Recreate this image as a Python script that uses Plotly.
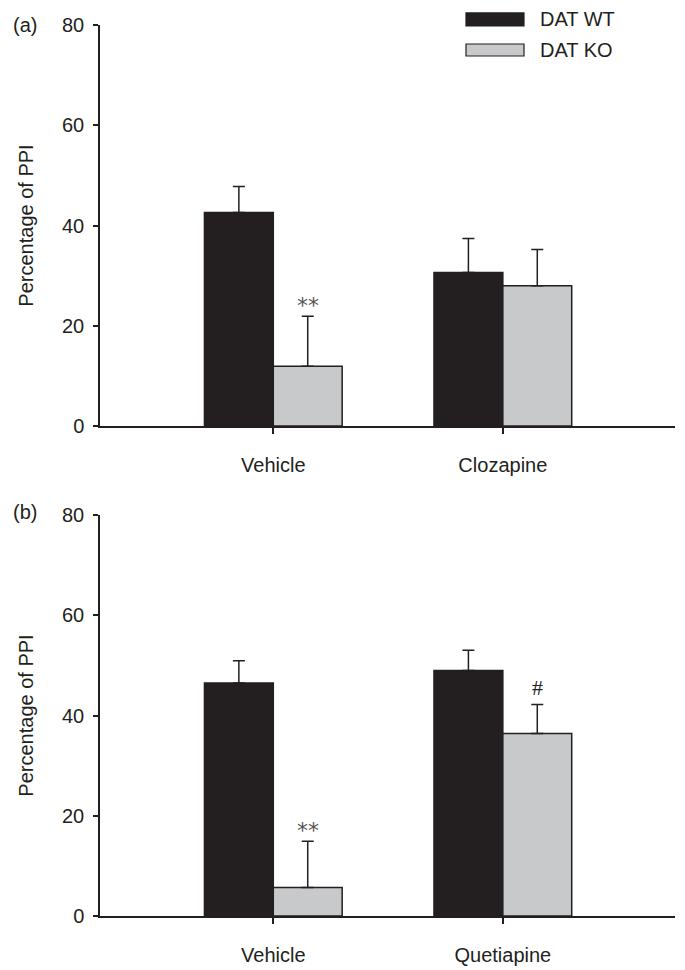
import plotly.graph_objects as go

# ---- data ----
cats_a = ["Vehicle", "Clozapine"]
wt_a = [42.6, 30.6]
wt_a_err = [5.2, 6.8]
ko_a = [11.9, 28.0]
ko_a_err = [10.0, 7.2]
sig_a = ["**", ""]

cats_b = ["Vehicle", "Quetiapine"]
wt_b = [46.5, 49.0]
wt_b_err = [4.4, 4.0]
ko_b = [5.7, 36.4]
ko_b_err = [9.2, 5.8]
sig_b = ["**", "#"]

y_ticks = [0, 20, 40, 60, 80]

DARK = "#231f20"
GREY = "#c8c9cb"
FONT = "Liberation Sans"

fig = go.Figure()

def add_panel(cats, wt, wt_err, ko, ko_err, xa, ya):
    fig.add_trace(go.Bar(
        x=cats, y=wt, name="DAT WT", marker=dict(color=DARK, line=dict(color=DARK, width=1.5)),
        error_y=dict(type="data", array=wt_err, arrayminus=[0] * len(wt), symmetric=False,
                     color=DARK, thickness=1.5, width=6),
        xaxis=xa, yaxis=ya, showlegend=False))
    fig.add_trace(go.Bar(
        x=cats, y=ko, name="DAT KO", marker=dict(color=GREY, line=dict(color=DARK, width=1.5)),
        error_y=dict(type="data", array=ko_err, arrayminus=[0] * len(ko), symmetric=False,
                     color=DARK, thickness=1.5, width=6),
        xaxis=xa, yaxis=ya, showlegend=False))

add_panel(cats_a, wt_a, wt_a_err, ko_a, ko_a_err, "x", "y")
add_panel(cats_b, wt_b, wt_b_err, ko_b, ko_b_err, "x2", "y2")

def sig_note(sym, x, y, xr, yr):
    if sym == "#":
        return dict(x=x, y=y, xref=xr, yref=yr, text=sym, showarrow=False,
                    yanchor="middle", yshift=17,
                    font=dict(family="Liberation Serif", size=22, color=DARK))
    return dict(x=x, y=y, xref=xr, yref=yr, text=sym, showarrow=False,
                yanchor="middle", yshift=11,
                font=dict(family="DejaVu Sans", size=22, color="#555"))

annotations = []
for i, (s, v, e) in enumerate(zip(sig_a, ko_a, ko_a_err)):
    if s:
        annotations.append(sig_note(s, i + 0.15, v + e, "x", "y"))
for i, (s, v, e) in enumerate(zip(sig_b, ko_b, ko_b_err)):
    if s:
        annotations.append(sig_note(s, i + 0.15, v + e, "x2", "y2"))

tf = dict(family=FONT, size=20, color=DARK)
annotations += [
    dict(x=-0.155, y=1.0, xref="paper", yref="paper", text="(a)", showarrow=False,
         xanchor="left", yanchor="middle", font=tf),
    dict(x=-0.155, y=0.4535, xref="paper", yref="paper", text="(b)", showarrow=False,
         xanchor="left", yanchor="middle", font=tf),
    dict(x=0.7617, y=1.0062, xref="paper", yref="paper", text="DAT WT", showarrow=False,
         xanchor="left", yanchor="middle", font=tf),
    dict(x=0.7617, y=0.9722, xref="paper", yref="paper", text="DAT KO", showarrow=False,
         xanchor="left", yanchor="middle", font=tf),
]

shapes = [
    dict(type="rect", xref="paper", yref="paper", x0=0.6365, x1=0.7374, y0=0.9989, y1=1.0135,
         fillcolor=DARK, line=dict(color=DARK, width=1.2)),
    dict(type="rect", xref="paper", yref="paper", x0=0.6365, x1=0.7374, y0=0.9652, y1=0.9787,
         fillcolor=GREY, line=dict(color=DARK, width=1.2)),
]

xcommon = dict(range=[-0.755, 1.75], showline=True, linecolor=DARK, linewidth=1.5,
               ticks="outside", ticklen=6, tickwidth=1.5, tickcolor=DARK,
               tickfont=tf, ticklabelstandoff=14, automargin=False,
               showgrid=False, zeroline=False, fixedrange=True)
ycommon = dict(range=[0, 80], tickvals=y_ticks, showline=True, linecolor=DARK, linewidth=1.5,
               ticks="outside", ticklen=5, tickwidth=1.5, tickcolor=DARK,
               tickfont=tf, ticklabelstandoff=5, automargin=False,
               showgrid=False, zeroline=False,
               title=dict(text="Percentage of PPI", font=tf, standoff=23))

da = [1 - 401 / 891, 1]
db = [0, 401 / 891]

fig.update_layout(
    width=677, height=962,
    margin=dict(l=92, r=10, t=17, b=54),
    paper_bgcolor="white", plot_bgcolor="white",
    barmode="group", bargap=0.4, bargroupgap=0,
    showlegend=False,
    xaxis=dict(**xcommon, anchor="y"),
    yaxis=dict(**ycommon, domain=da, anchor="x"),
    xaxis2=dict(**xcommon, anchor="y2"),
    yaxis2=dict(**ycommon, domain=db, anchor="x2"),
    annotations=annotations,
    shapes=shapes,
)

fig.write_html("out.html")
